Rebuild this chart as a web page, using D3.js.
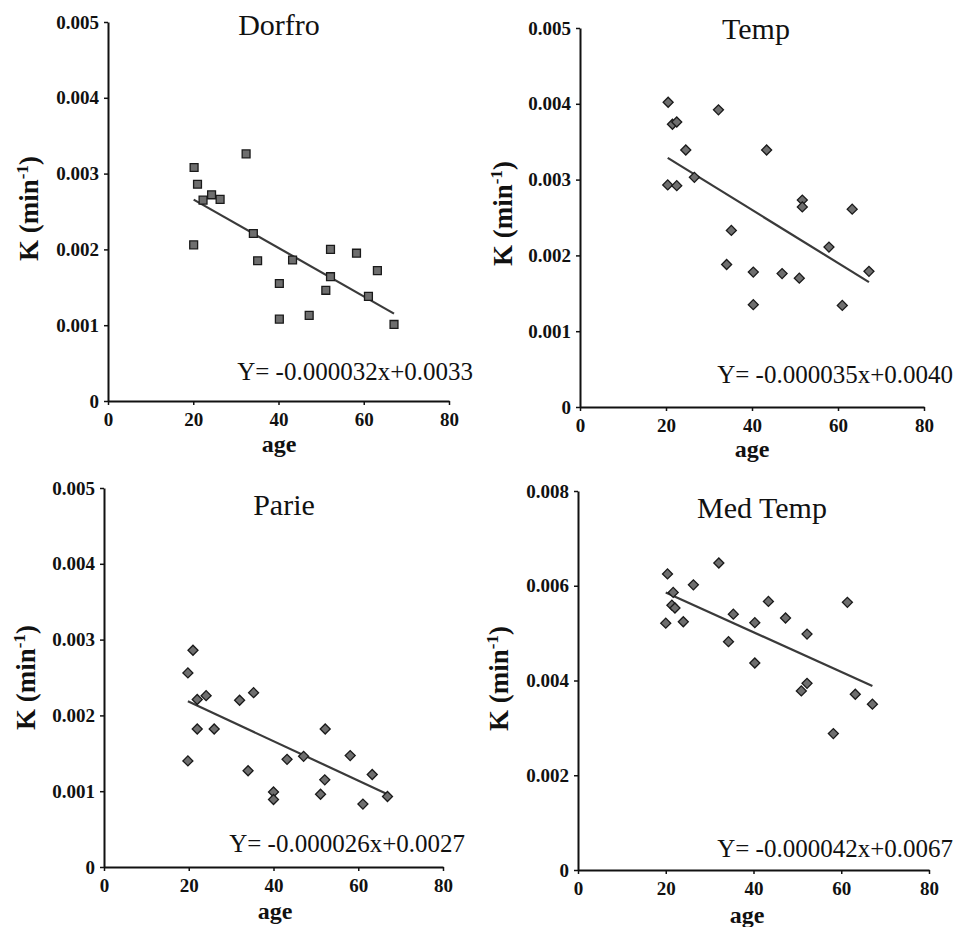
<!DOCTYPE html>
<html>
<head>
<meta charset="utf-8">
<script src="https://cdn.jsdelivr.net/npm/d3@7"></script>
<style>
  body { margin: 0; background: #fff; }
  svg text { font-family: "Liberation Serif", "DejaVu Serif", serif; fill: #111; }
</style>
</head>
<body>
<script>
// ---- data ----
const panelNames = ["Dorfro", "Temp", "Parie", "Med Temp"];
const equations = ["Y= -0.000032x+0.0033", "Y= -0.000035x+0.0040", "Y= -0.000026x+0.0027", "Y= -0.000042x+0.0067"];
const slopes = [-0.000032, -0.000035, -0.000026, -0.000042];
const intercepts = [0.0033, 0.0040, 0.0027, 0.0067];
const xTicks = [0, 20, 40, 60, 80];
const yTicksSmall = [0, 0.001, 0.002, 0.003, 0.004, 0.005];
const yTicksMed = [0, 0.002, 0.004, 0.006, 0.008];

const dorfroAge = [20.2, 21.0, 22.3, 24.3, 26.3, 32.4, 20.1, 34.1, 35.1, 40.2, 40.2, 43.3, 47.2, 51.1, 52.2, 52.2, 58.3, 61.1, 63.2, 67.1];
const dorfroK = [0.00308, 0.00286, 0.00265, 0.00272, 0.00266, 0.00326, 0.00206, 0.00221, 0.00185, 0.00155, 0.00108, 0.00186, 0.00113, 0.00146, 0.00200, 0.00164, 0.00195, 0.00138, 0.00172, 0.00101];

const tempAge = [20.5, 21.5, 22.5, 24.6, 26.6, 20.4, 22.5, 32.2, 35.2, 34.1, 40.3, 40.3, 43.4, 47.0, 51.0, 51.7, 51.7, 57.9, 61.0, 63.3, 67.2];
const tempK = [0.00402, 0.00373, 0.00376, 0.00339, 0.00303, 0.00293, 0.00292, 0.00392, 0.00233, 0.00188, 0.00178, 0.00135, 0.00339, 0.00176, 0.00170, 0.00273, 0.00264, 0.00211, 0.00134, 0.00261, 0.00179];

const parieAge = [19.8, 21.0, 19.8, 22.0, 22.0, 24.1, 26.0, 32.0, 35.3, 34.0, 40.0, 40.0, 43.2, 47.1, 51.1, 52.1, 52.2, 58.1, 61.1, 63.3, 66.9];
const parieK = [0.00256, 0.00286, 0.00140, 0.00221, 0.00182, 0.00226, 0.00182, 0.00220, 0.00230, 0.00127, 0.00099, 0.00089, 0.00142, 0.00146, 0.00096, 0.00115, 0.00182, 0.00147, 0.00083, 0.00122, 0.00093];

const medAge = [20.4, 20.0, 21.7, 21.4, 22.1, 24.0, 26.3, 32.1, 35.4, 34.3, 40.3, 40.3, 43.4, 47.3, 52.2, 50.9, 52.2, 58.2, 61.4, 63.2, 67.1];
const medK = [0.00625, 0.00521, 0.00586, 0.00559, 0.00553, 0.00524, 0.00602, 0.00648, 0.00540, 0.00482, 0.00522, 0.00437, 0.00567, 0.00532, 0.00498, 0.00378, 0.00394, 0.00288, 0.00565, 0.00371, 0.00350];

const ages = [dorfroAge, tempAge, parieAge, medAge];
const ks = [dorfroK, tempK, parieK, medK];
const yMax = [0.005, 0.005, 0.005, 0.008];
const yTickSets = [yTicksSmall, yTicksSmall, yTicksSmall, yTicksMed];

// ---- layout (pixel positions of each panel frame) ----
const layout = [
  { left: 108, top: 22, w: 341, h: 379, titleDx: 171, titleDy: 13, eqDx: 24, eqDy: -21, ageDx: 171, ageDy: 51, kx: 38, ky: -3 },
  { left: 580, top: 28, w: 344, h: 379, titleDx: 176, titleDy: 11, eqDx: 29, eqDy: -24, ageDx: 172, ageDy: 50, kx: 512, ky: -4 },
  { left: 104, top: 488, w: 339, h: 379, titleDx: 180, titleDy: 27, eqDx: 22, eqDy: -15, ageDx: 171, ageDy: 52, kx: 35, ky: 0 },
  { left: 578, top: 491, w: 351, h: 379, titleDx: 184, titleDy: 27, eqDx: 24, eqDy: -13, ageDx: 169, ageDy: 53, kx: 508, ky: -2 }
];

const svg = d3.select("body").append("svg")
  .attr("width", 960)
  .attr("height", 927);

const fmtY = (d) => (d === 0 ? "0" : d3.format(".3f")(d));

panelNames.forEach((name, i) => {
  const L = layout[i];
  const x = d3.scaleLinear().domain([0, 80]).range([L.left, L.left + L.w]);
  const y = d3.scaleLinear().domain([0, yMax[i]]).range([L.top + L.h, L.top]);

  const gx = svg.append("g")
    .attr("transform", `translate(0,${L.top + L.h})`)
    .call(d3.axisBottom(x).tickValues(xTicks).tickSize(4).tickSizeOuter(0).tickPadding(8));
  const gy = svg.append("g")
    .attr("transform", `translate(${L.left},0)`)
    .call(d3.axisLeft(y).tickValues(yTickSets[i]).tickFormat(fmtY).tickSize(4).tickSizeOuter(0).tickPadding(5));

  [gx, gy].forEach((g) => {
    g.select(".domain").attr("stroke", "#111").attr("stroke-width", 2);
    g.selectAll(".tick line").attr("stroke", "#111").attr("stroke-width", 1.5);
    g.selectAll(".tick text")
      .attr("fill", "#111")
      .style("font-family", '"Liberation Serif", serif')
      .style("font-size", "19px")
      .style("font-weight", "bold");
  });

  // regression line across the age range
  const x0 = d3.min(ages[i]);
  const x1 = d3.max(ages[i]);
  svg.append("line")
    .attr("x1", x(x0))
    .attr("y1", y(slopes[i] * x0 + intercepts[i]))
    .attr("x2", x(x1))
    .attr("y2", y(slopes[i] * x1 + intercepts[i]))
    .attr("stroke", "#3a3a3a")
    .attr("stroke-width", 2.2);

  // points: squares for Dorfro, rotated squares (diamonds) for the others
  const pts = ages[i].map((a, j) => ({ age: a, k: ks[i][j] }));
  svg.append("g")
    .selectAll("path")
    .data(pts)
    .join("path")
    .attr("d", d3.symbol().type(d3.symbolSquare).size(i === 0 ? 62 : 50))
    .attr("transform", (d) => `translate(${x(d.age)},${y(d.k)})` + (i === 0 ? "" : " rotate(45)"))
    .attr("fill", "#6e6e6e")
    .attr("stroke", "#1a1a1a")
    .attr("stroke-width", 1.3);

  // title
  svg.append("text")
    .attr("x", L.left + L.titleDx)
    .attr("y", L.top + L.titleDy)
    .attr("text-anchor", "middle")
    .style("font-size", "30px")
    .text(name);

  // equation
  svg.append("text")
    .attr("x", L.left + L.w + L.eqDx)
    .attr("y", L.top + L.h + L.eqDy)
    .attr("text-anchor", "end")
    .style("font-size", "25px")
    .text(equations[i]);

  // x label
  svg.append("text")
    .attr("x", L.left + L.ageDx)
    .attr("y", L.top + L.h + L.ageDy)
    .attr("text-anchor", "middle")
    .style("font-size", "24px")
    .style("font-weight", "bold")
    .text("age");

  // y label
  const cy = L.top + L.h / 2 + L.ky;
  const kl = svg.append("text")
    .attr("transform", `translate(${L.kx},${cy}) rotate(-90)`)
    .attr("text-anchor", "middle")
    .style("font-size", "27px")
    .style("font-weight", "bold");
  kl.append("tspan").text("K (min");
  kl.append("tspan").attr("dy", -10).style("font-size", "17px").text("-1");
  kl.append("tspan").attr("dy", 10).text(")");
});
</script>
</body>
</html>
